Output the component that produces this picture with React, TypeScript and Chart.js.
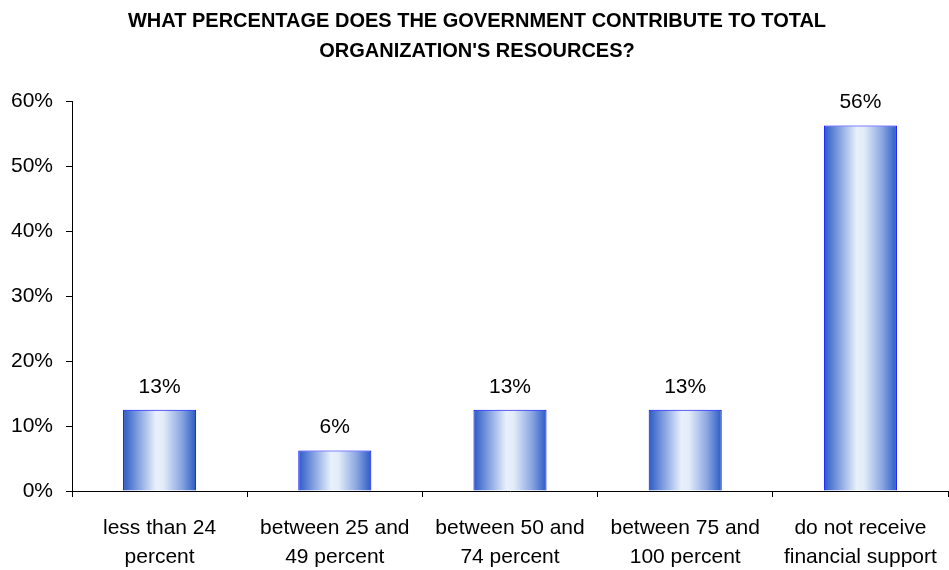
import React, { useEffect, useRef } from "react";
import { Chart, registerables } from "chart.js";

Chart.register(...registerables);

const titleLines = [
  "WHAT PERCENTAGE DOES THE GOVERNMENT CONTRIBUTE TO TOTAL",
  "ORGANIZATION'S RESOURCES?",
];
const categories = [
  ["less than 24", "percent"],
  ["between 25 and", "49 percent"],
  ["between 50 and", "74 percent"],
  ["between 75 and", "100 percent"],
  ["do not receive", "financial support"],
];
const values = [12.5, 6.25, 12.5, 12.5, 56.25];
const valueLabels = ["13%", "6%", "13%", "13%", "56%"];
const yTicks = [0, 10, 20, 30, 40, 50, 60];

const FONT = "'Liberation Sans', Arial, sans-serif";

const overlayPlugin = {
  id: "overlay",
  afterDraw(chart: any) {
    const ctx = chart.ctx;
    ctx.save();
    ctx.fillStyle = "#000";
    ctx.textAlign = "center";
    ctx.textBaseline = "alphabetic";
    ctx.font = `bold 20px ${FONT}`;
    ctx.fillText(titleLines[0], 477, 27);
    ctx.fillText(titleLines[1], 477, 57);
    ctx.font = `21px ${FONT}`;
    const meta = chart.getDatasetMeta(0);
    meta.data.forEach((el: any, i: number) => {
      ctx.fillText(valueLabels[i], el.x, el.y - 17);
    });
    ctx.restore();
  },
};

export default function App() {
  const ref = useRef<HTMLCanvasElement>(null);
  useEffect(() => {
    if (!ref.current) return;
    const chart = new Chart(ref.current, {
      type: "bar",
      data: {
        labels: categories,
        datasets: [
          {
            data: values,
            borderColor: "#0000ff",
            borderWidth: 1,
            barPercentage: 0.417,
            categoryPercentage: 1,
            backgroundColor: (c: any) => {
              const ch = c.chart;
              const xs = ch.scales?.x;
              if (!xs || c.dataIndex === undefined) return "#6f8fdc";
              const cx = xs.getPixelForValue(c.dataIndex);
              const w = (xs.width / categories.length) * 0.417;
              if (!isFinite(cx) || !isFinite(w) || w <= 0) return "#6f8fdc";
              const g = ch.ctx.createLinearGradient(cx - w / 2, 0, cx + w / 2, 0);
              g.addColorStop(0, "#2a5ac4");
              g.addColorStop(0.2, "#7f9ee0");
              g.addColorStop(0.45, "#e8f0fb");
              g.addColorStop(0.55, "#e3ecf9");
              g.addColorStop(0.8, "#8aa6e2");
              g.addColorStop(1, "#2a5ac4");
              return g;
            },
          },
        ],
      },
      options: {
        animation: false,
        responsive: false,
        layout: { padding: { top: 101, right: 1, left: 0, bottom: 0 } },
        plugins: { legend: { display: false }, tooltip: { enabled: false }, title: { display: false } },
        scales: {
          x: {
            grid: {
              display: true,
              drawOnChartArea: false,
              drawTicks: true,
              tickLength: 6,
              color: "#000",
              offset: true,
            },
            border: { color: "#000", width: 1 },
            ticks: {
              color: "#000",
              font: { family: FONT, size: 21, lineHeight: 1.36 },
              padding: 17,
              maxRotation: 0,
              autoSkip: false,
            },
            afterFit: (s: any) => {
              s.height = 79;
              s.paddingLeft = 0;
              s.paddingRight = 0;
            },
          },
          y: {
            min: 0,
            max: 60,
            afterBuildTicks: (s: any) => {
              s.ticks = yTicks.map((v) => ({ value: v }));
            },
            grid: {
              display: true,
              drawOnChartArea: false,
              drawTicks: true,
              tickLength: 6,
              color: "#000",
            },
            border: { color: "#000", width: 1 },
            ticks: {
              color: "#000",
              font: { family: FONT, size: 21 },
              padding: 13,
              callback: (v: any) => `${v}%`,
            },
            afterFit: (s: any) => {
              s.width = 72;
            },
          },
        },
      },
      plugins: [overlayPlugin],
    });
    return () => chart.destroy();
  }, []);
  return (
    <div style={{ position: "fixed", left: 0, top: 0, width: 949, height: 570, background: "#fff" }}>
      <canvas ref={ref} width={949} height={570} style={{ width: 949, height: 570, display: "block" }} />
    </div>
  );
}
